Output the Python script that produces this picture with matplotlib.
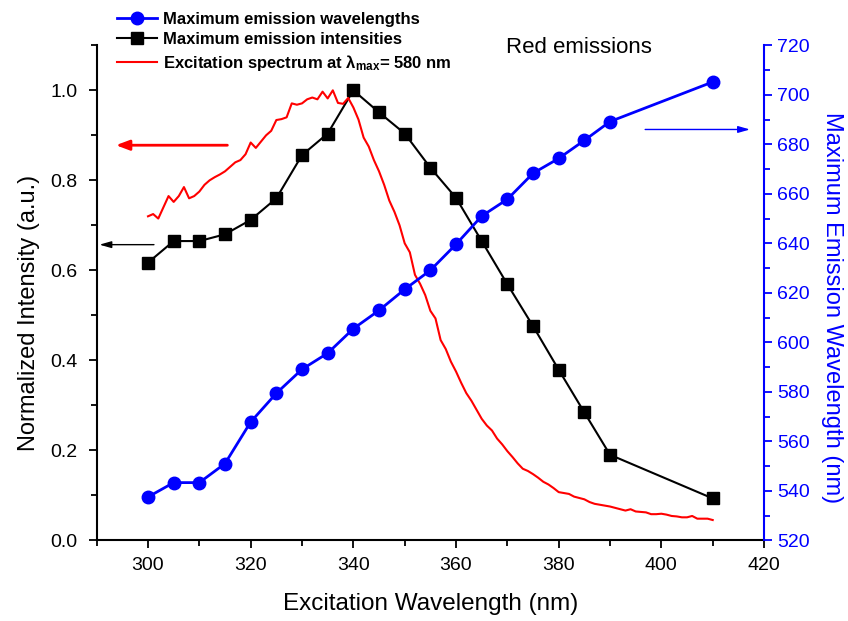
import matplotlib
matplotlib.use('Agg')
import matplotlib.pyplot as plt
from matplotlib.ticker import MultipleLocator

# emission maxima vs excitation wavelength
exc_wl = [300, 305, 310, 315, 320, 325, 330, 335, 340, 345, 350,
          355, 360, 365, 370, 375, 380, 385, 390, 410]
max_intensity = [0.617, 0.665, 0.665, 0.680, 0.712, 0.760, 0.856, 0.904, 1.0, 0.951, 0.904,
                 0.828, 0.761, 0.665, 0.569, 0.476, 0.379, 0.284, 0.190, 0.093]
max_wavelength = [537.5, 543.3, 543.3, 551.0, 567.8, 579.4, 589.1, 595.6, 605.5, 612.9, 621.4,
                  629.1, 639.6, 651.0, 657.8, 668.3, 674.3, 681.6, 689.2, 705.2]

# excitation spectrum (1 nm steps, 300-410 nm)
spec_wl = list(range(300, 411))
spec_int = [0.720, 0.725, 0.715, 0.740, 0.765, 0.752, 0.765, 0.785, 0.760, 0.765,
            0.775, 0.790, 0.800, 0.807, 0.813, 0.820, 0.830, 0.840, 0.845, 0.858,
            0.884, 0.872, 0.886, 0.900, 0.910, 0.934, 0.936, 0.940, 0.971, 0.968,
            0.971, 0.980, 0.984, 0.980, 0.997, 0.982, 1.000, 0.972, 0.970, 0.983,
            0.962, 0.935, 0.895, 0.875, 0.845, 0.820, 0.790, 0.755, 0.730, 0.700,
            0.660, 0.640, 0.590, 0.570, 0.545, 0.510, 0.493, 0.445, 0.425, 0.397,
            0.375, 0.350, 0.327, 0.310, 0.290, 0.270, 0.255, 0.244, 0.226, 0.213,
            0.198, 0.185, 0.171, 0.159, 0.154, 0.147, 0.139, 0.130, 0.124, 0.116,
            0.107, 0.105, 0.103, 0.097, 0.094, 0.091, 0.085, 0.081, 0.079, 0.077,
            0.075, 0.072, 0.069, 0.066, 0.069, 0.064, 0.063, 0.062, 0.058, 0.058,
            0.059, 0.057, 0.054, 0.053, 0.051, 0.051, 0.054, 0.048, 0.048, 0.048,
            0.045]

plt.rcParams['font.family'] = ['Liberation Sans', 'DejaVu Sans']
plt.rcParams['mathtext.fontset'] = 'custom'
plt.rcParams['mathtext.rm'] = 'Liberation Sans'
plt.rcParams['mathtext.bf'] = 'Liberation Sans:bold'

fig = plt.figure(figsize=(8.48, 6.21), dpi=100)
ax = fig.add_axes([0.114, 0.130, 0.787, 0.797])
ax2 = ax.twinx()

l_int, = ax.plot(exc_wl, max_intensity, color='black', lw=1.5, marker='s', ms=9,
                 label='Maximum emission intensities')
l_spec, = ax.plot(spec_wl, spec_int, color='red', lw=1.5,
                  label=r'Excitation spectrum at $\mathbf{\lambda_{max}}$= 580 nm')
l_wl, = ax2.plot(exc_wl, max_wavelength, color='blue', lw=2, marker='o', ms=9,
                 label='Maximum emission wavelengths')

ax.set_xlim(290, 420)
ax.set_ylim(0, 1.1)
ax2.set_ylim(520, 720)

ax.xaxis.set_major_locator(MultipleLocator(20))
ax.xaxis.set_minor_locator(MultipleLocator(10))
ax.yaxis.set_major_locator(MultipleLocator(0.2))
ax.yaxis.set_minor_locator(MultipleLocator(0.1))
ax.yaxis.set_major_formatter(plt.FormatStrFormatter('%.1f'))
ax2.yaxis.set_major_locator(MultipleLocator(20))
ax2.yaxis.set_minor_locator(MultipleLocator(10))

for a in (ax, ax2):
    a.spines['top'].set_visible(False)
ax.spines['right'].set_visible(False)
ax2.spines['left'].set_visible(False)
ax2.spines['bottom'].set_visible(False)
ax2.spines['right'].set_color('blue')
ax2.spines['right'].set_linewidth(1.5)
ax.spines['left'].set_linewidth(1.5)
ax.spines['bottom'].set_linewidth(1.5)

ax.tick_params(which='major', direction='out', length=6, width=1.3, labelsize=14, pad=6)
ax.tick_params(axis='y', which='major', pad=8)
ax.tick_params(which='minor', direction='out', length=4, width=1.3)
ax2.tick_params(which='major', direction='out', length=6, width=1.3, labelsize=14,
                color='blue', labelcolor='blue')
ax2.tick_params(which='minor', direction='out', length=4, width=1.3, color='blue')

ax.set_xlabel('Excitation Wavelength (nm)', fontsize=17.5, labelpad=14)
ax.set_ylabel('Normalized Intensity (a.u.)', fontsize=17)
ax.yaxis.set_label_coords(-0.085, 0.46)
ax2.set_ylabel('Maximum Emission Wavelength (nm)', fontsize=17, color='blue',
               rotation=270, va='center', ha='center')
ax2.yaxis.set_label_coords(1.102, 0.47)

ax.text(384, 1.095, 'Red emissions', fontsize=16, ha='center', va='center')

# arrows pointing to the axes
ax.annotate('', xy=(293.2, 0.878), xytext=(316.0, 0.878),
            arrowprops=dict(arrowstyle='-|>,head_length=0.8,head_width=0.3',
                            color='red', lw=2))
ax.annotate('', xy=(290.0, 0.657), xytext=(301.7, 0.657),
            arrowprops=dict(arrowstyle='-|>,head_length=0.7,head_width=0.2',
                            color='black', lw=1))
ax2.annotate('', xy=(417.8, 686.0), xytext=(396.3, 686.0),
             arrowprops=dict(arrowstyle='-|>,head_length=0.7,head_width=0.2',
                             color='blue', lw=1))

leg = fig.legend(handles=[l_wl, l_int, l_spec], loc='upper left',
                 bbox_to_anchor=(0.12, 1.005), frameon=False, handlelength=2.4,
                 labelspacing=0.32, handletextpad=0.4,
                 prop={'weight': 'bold', 'size': 12})

fig.savefig('out.png', dpi=100)
